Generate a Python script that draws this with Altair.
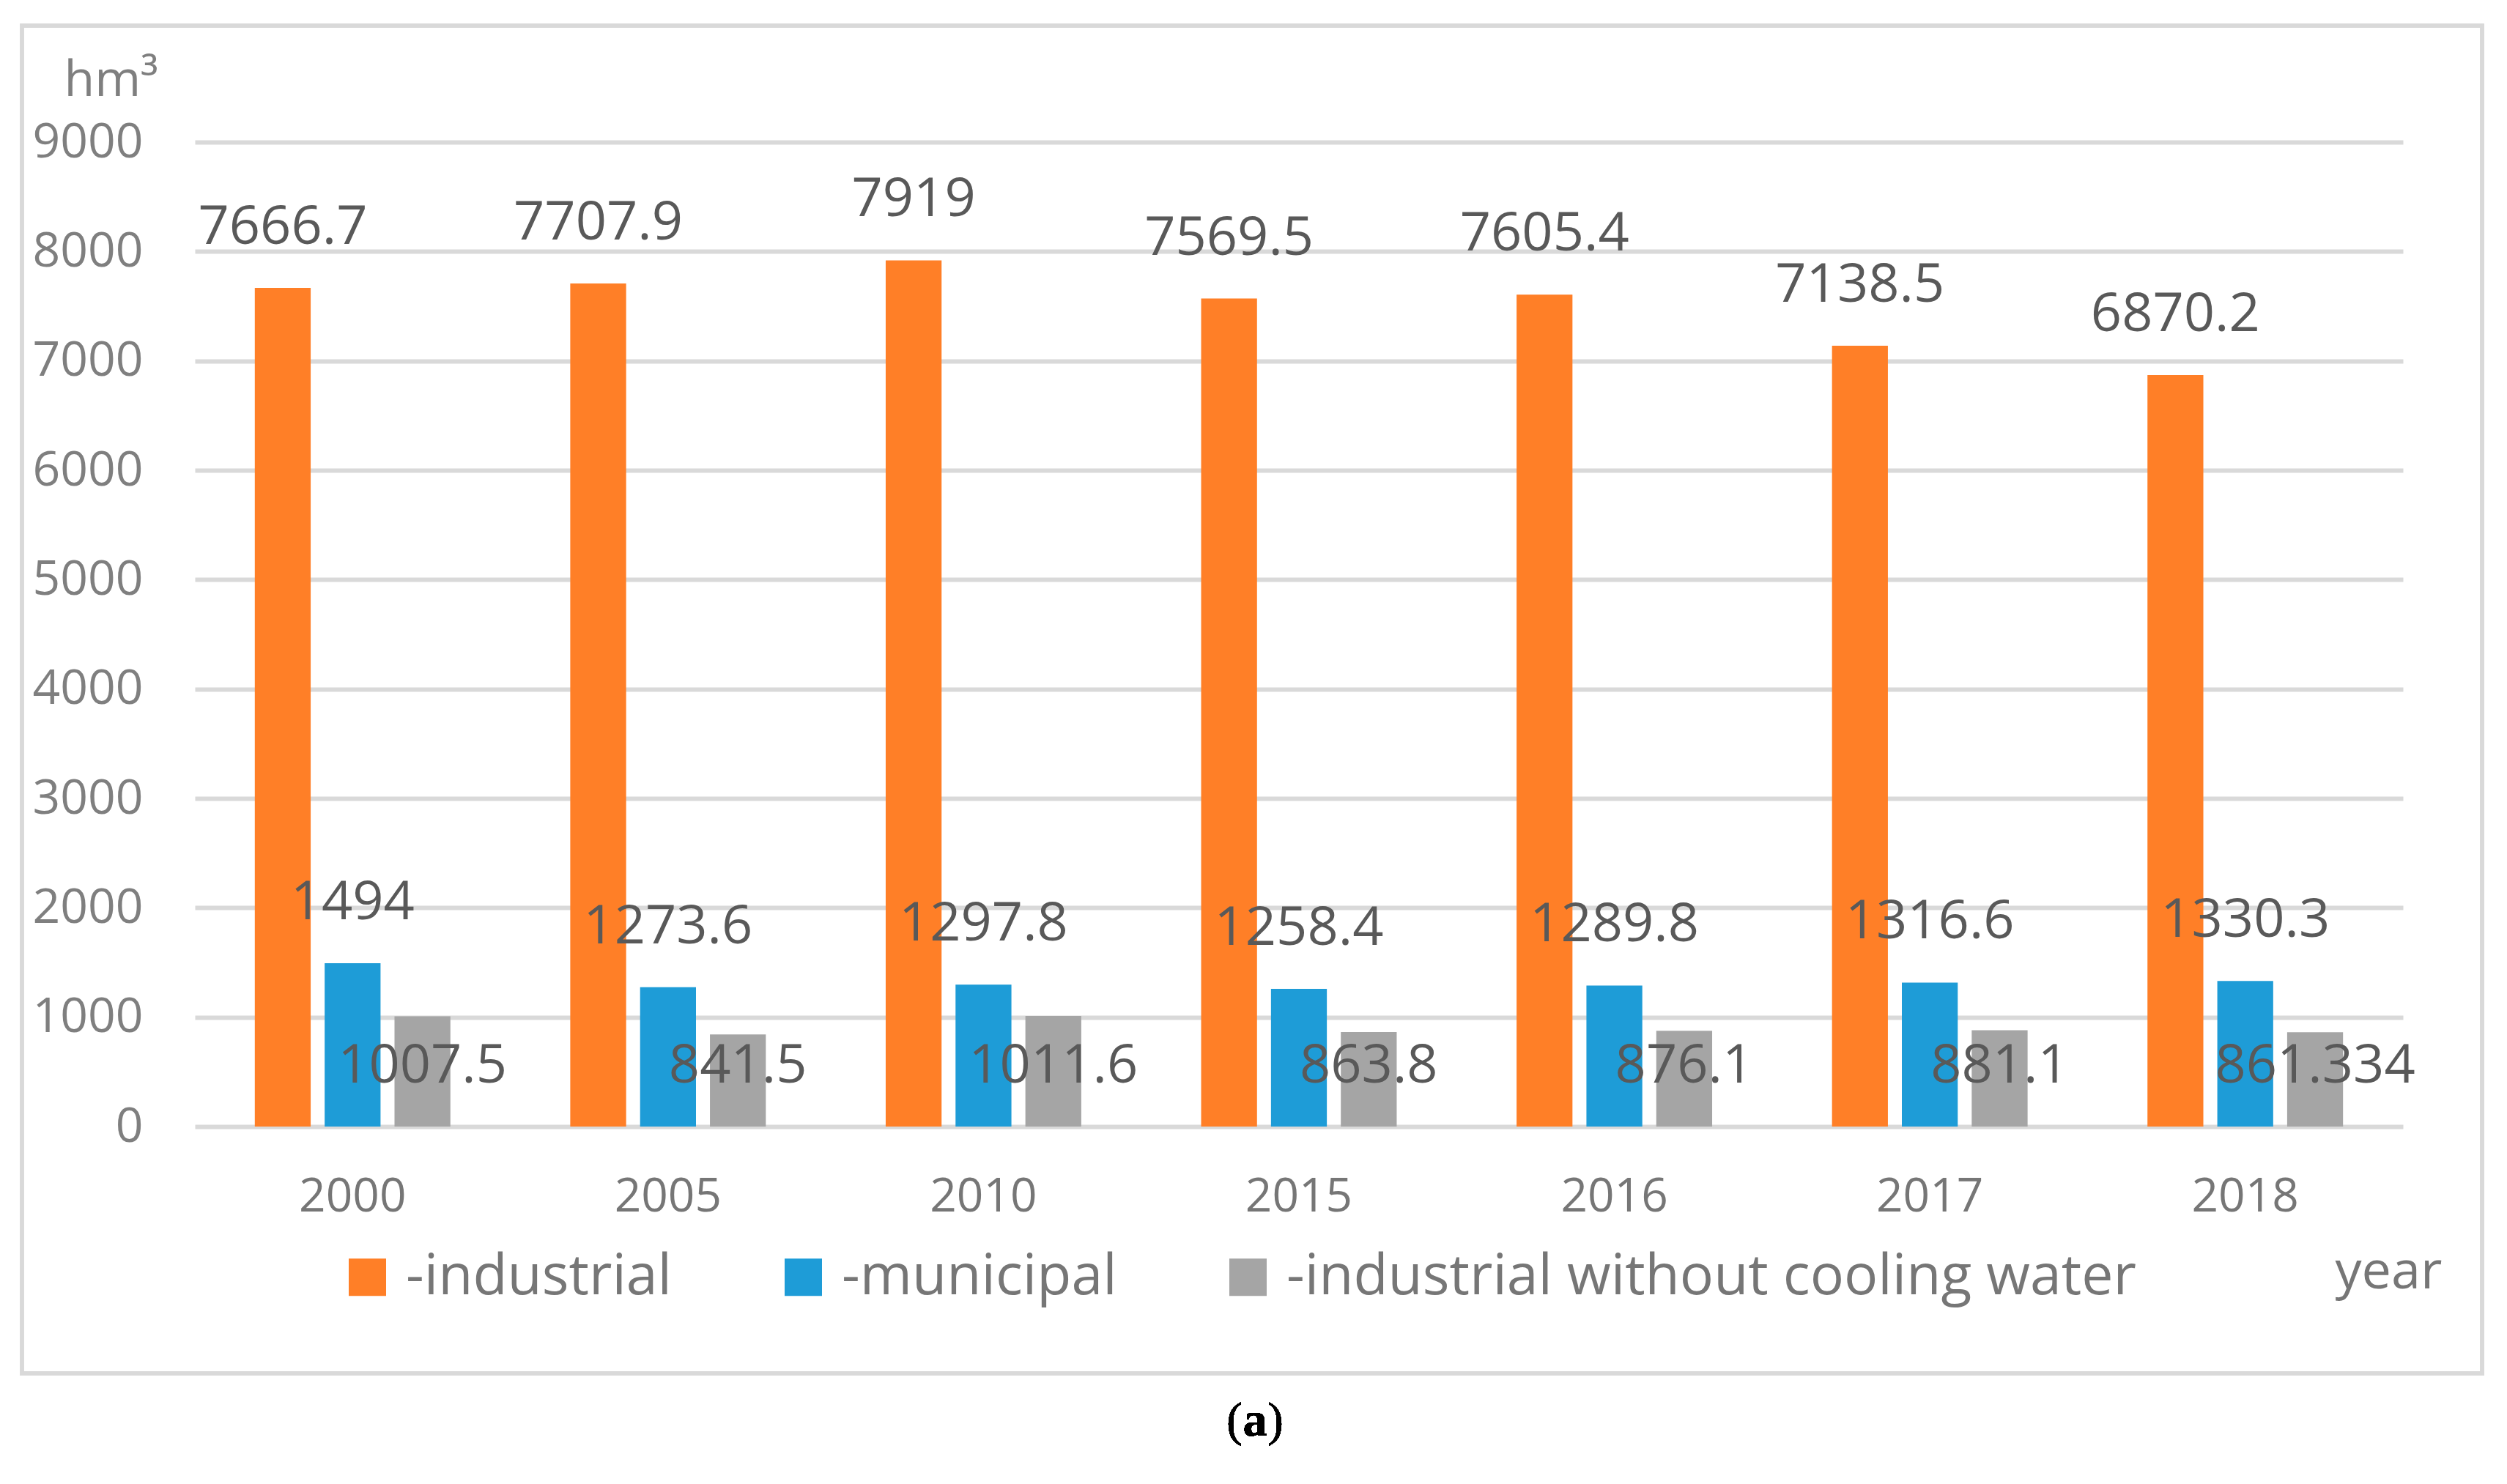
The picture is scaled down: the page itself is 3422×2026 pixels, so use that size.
import pandas as pd
import altair as alt

# Values
YEARS = ['2000', '2005', '2010', '2015', '2016', '2017', '2018']
INDUSTRIAL = [7666.7, 7707.9, 7919, 7569.5, 7605.4, 7138.5, 6870.2]
MUNICIPAL = [1494, 1273.6, 1297.8, 1258.4, 1289.8, 1316.6, 1330.3]
NO_COOLING = [1007.5, 841.5, 1011.6, 863.8, 876.1, 881.1, 861.334]

SERIES = ['-industrial', '-municipal', '-industrial without cooling water']
COLORS = ['#FF7F27', '#1E9CD7', '#A5A5A5']

FONT = 'Open Sans'
W, H = 3014, 1344


def build_frame():
    rows = []
    for name, vals in zip(SERIES, [INDUSTRIAL, MUNICIPAL, NO_COOLING]):
        for year, v in zip(YEARS, vals):
            rows.append({'year': year, 'series': name, 'value': v, 'label': f'{v:g}'})
    return pd.DataFrame(rows)


df = build_frame()

x_enc = alt.X('year:N', sort=YEARS,
              scale=alt.Scale(paddingInner=0.38, paddingOuter=0.19),
              axis=alt.Axis(title='year', labelAngle=0, domain=False, ticks=False,
                            labelFont=FONT, labelFontSize=64, labelColor='#767676',
                            labelPadding=64,
                            titleFont=FONT, titleFontSize=72, titleFontWeight='normal',
                            titleColor='#767676', titleX=2994, titleY=220,
                            titleAlign='center', titleBaseline='alphabetic'))
off_enc = alt.XOffset('series:N', sort=SERIES,
                      scale=alt.Scale(paddingInner=0.2, paddingOuter=0))

bars = alt.Chart(df).mark_bar().encode(
    x=x_enc,
    xOffset=off_enc,
    y=alt.Y('value:Q', scale=alt.Scale(domain=[0, 9000]),
            axis=alt.Axis(values=list(range(0, 9001, 1000)), format='d',
                          domain=False, ticks=False,
                          grid=True, gridColor='#D9D9D9', gridWidth=6,
                          labelFont=FONT, labelFontSize=66, labelColor='#7F7F7F',
                          labelPadding=71,
                          title='hm³', titleAngle=0, titleX=-179, titleY=-64,
                          titleAlign='left', titleBaseline='alphabetic',
                          titleFont=FONT, titleFontSize=68, titleFontWeight='normal',
                          titleColor='#7F7F7F')),
    color=alt.Color('series:N', sort=SERIES,
                    scale=alt.Scale(domain=SERIES, range=COLORS),
                    legend=alt.Legend(title=None, orient='none', direction='horizontal',
                                      legendX=197, legendY=1511, padding=0,
                                      symbolType='square', symbolSize=2601,
                                      symbolStrokeWidth=0, symbolOpacity=1,
                                      labelFont=FONT, labelFontSize=77,
                                      labelColor='#767676', labelOffset=14,
                                      labelLimit=0, columnPadding=140)),
)

# labels: gray series sits on the baseline, the others above their bars
labels = alt.Chart(df).transform_calculate(
    ypos="datum.series == '-industrial without cooling water' ? 0 : datum.value"
).mark_text(font=FONT, fontSize=74, color='#595959', baseline='alphabetic', dy=-60).encode(
    x=alt.X('year:N', sort=YEARS),
    xOffset=alt.XOffset('series:N', sort=SERIES),
    y=alt.Y('ypos:Q'),
    text='label:N',
)

# outer frame and caption
frame = alt.Chart(df).mark_rect(fill=None, stroke='#D9D9D9', strokeWidth=5).encode(
    x=alt.value(-236), x2=alt.value(3122), y=alt.value(-159), y2=alt.value(1681)
)
cap_l = alt.Chart(df).mark_text(text='(', font='Liberation Serif', fontSize=66,
                                 align='right', baseline='alphabetic', color='black').encode(
    x=alt.value(1430), y=alt.value(1766))
cap_a = alt.Chart(df).mark_text(text='a', font='Liberation Serif', fontSize=66,
                                 fontWeight='bold', align='center', baseline='alphabetic',
                                 color='black').encode(x=alt.value(1447), y=alt.value(1766))
cap_r = alt.Chart(df).mark_text(text=')', font='Liberation Serif', fontSize=66,
                                 align='left', baseline='alphabetic', color='black').encode(
    x=alt.value(1464), y=alt.value(1766))

chart = alt.layer(frame, bars, labels, cap_l, cap_a, cap_r).properties(
    width=W, height=H,
    autosize=alt.AutoSizeParams(type='none'),
    padding={'left': 258, 'top': 186, 'right': 130, 'bottom': 470},
).configure_view(stroke=None)

chart.save('out.html', embed_options={'renderer': 'svg', 'actions': False})
